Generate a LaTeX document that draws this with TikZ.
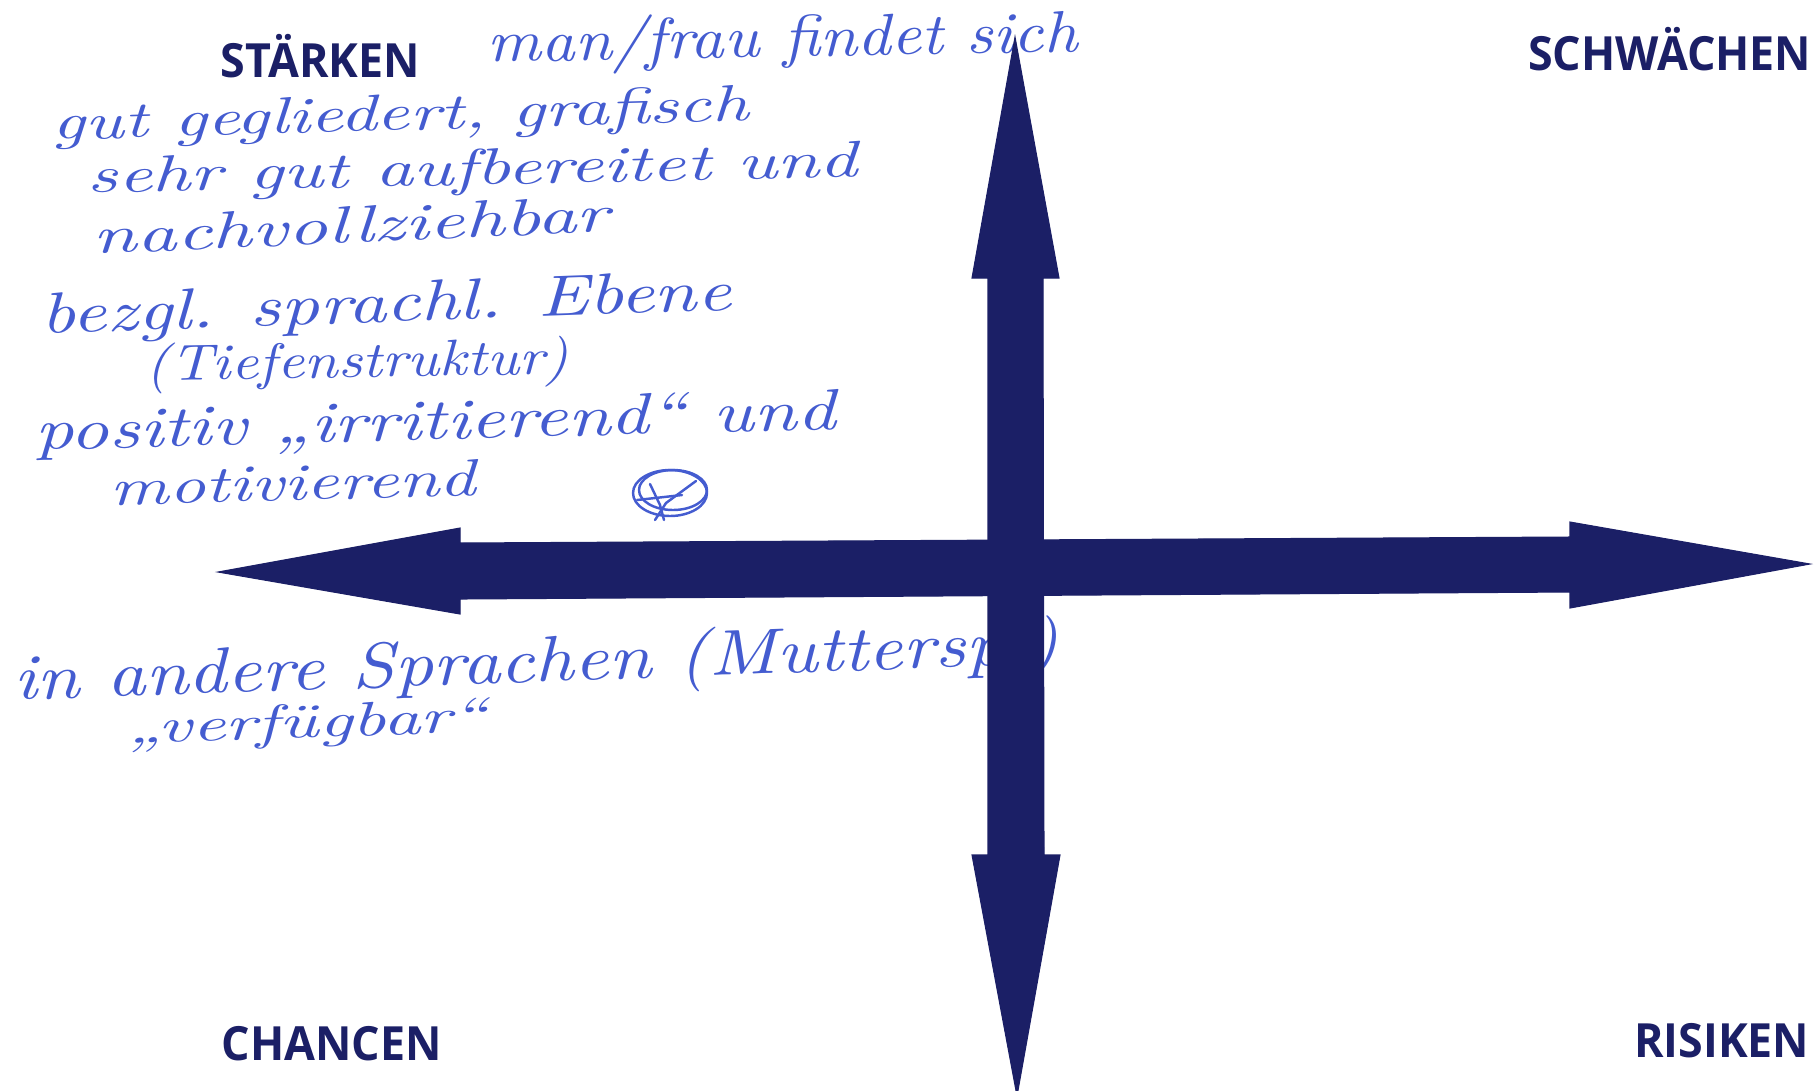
\documentclass[tikz,border=0pt]{standalone}
\usepackage{fontspec}
\usepackage{graphicx}
\newfontfamily\labelfont{Open Sans}
\definecolor{navy}{RGB}{27,31,102}
\definecolor{ink}{RGB}{68,92,208}
\newcommand{\hwtext}[3]{\resizebox{#1}{#2}{\itshape #3}}
\newcommand{\lbltext}[1]{\scalebox{0.95}[1]{#1}}
\tikzset{
  corner/.style={inner sep=0pt, text=navy, font=\labelfont\bfseries\fontsize{13.4}{15}\selectfont},
  hand/.style={inner sep=0pt, text=ink, anchor=base west},
  handline/.style={draw=ink, line width=0.7pt, line cap=round, line join=round},
  arrowshape/.style={fill=navy, draw=navy, line width=0.3pt, line join=miter}
}
\begin{document}
\begin{tikzpicture}[x=0.01cm, y=-0.01cm]
\useasboundingbox (0,0) rectangle (1818,1090);
\clip (0,0) rectangle (1818,1090);

% handwritten notes
\node[hand, rotate=1] (n1) at (487,62) {\hwtext{5.9cm}{0.44cm}{man/frau findet sich}};
\node[hand, rotate=1.6] (n2) at (52,140) {\hwtext{6.96cm}{0.36cm}{gut gegliedert, grafisch}};
\node[hand, rotate=1.2] (n3) at (87,193) {\hwtext{7.7cm}{0.36cm}{sehr gut aufbereitet und}};
\node[hand, rotate=2.5] (n4) at (93,254) {\hwtext{5.16cm}{0.36cm}{nachvollziehbar}};
\node[hand, rotate=2] (n5) at (41,334) {\hwtext{6.9cm}{0.4cm}{bezgl. sprachl. Ebene}};
\node[hand, rotate=1] (n6) at (145,381) {\hwtext{4.23cm}{0.38cm}{(Tiefenstruktur)}};
\node[hand, rotate=1.5] (n7) at (35,450) {\hwtext{8.0cm}{0.4cm}{positiv „irritierend“ und}};
\node[hand, rotate=1.5] (n8) at (110,505) {\hwtext{3.65cm}{0.36cm}{motivierend}};
\node[hand, rotate=2] (n9) at (14,700) {\hwtext{10.45cm}{0.48cm}{in andere Sprachen (Muttersp.)}};
\node[hand, rotate=2] (n10) at (127,744) {\hwtext{3.6cm}{0.34cm}{„verfügbar“}};

% circled mark
\draw[handline] (670,493) ellipse [x radius=37, y radius=23];
\draw[handline] (673,490) ellipse [x radius=34, y radius=20];
\draw[handline] (637,500) -- (682,495);
\draw[handline] (650,484) -- (660,505) -- (664,520);
\draw[handline] (696,481) -- (666,503) -- (655,520);

% horizontal double arrow
\fill[arrowshape] (218,572) -- (460,528) -- (460,543) -- (1570,537) -- (1570,522)
  -- (1810,564) -- (1570,608) -- (1570,592) -- (460,599) -- (460,614) -- cycle;
% vertical double arrow
\fill[arrowshape] (1015,37) -- (1059,278) -- (1043,278) -- (1044,855) -- (1060,855)
  -- (1017,1096) -- (972,855) -- (988,855) -- (988,278) -- (972,278) -- cycle;

% corner labels
\node[corner, anchor=base west] (staerken) at (220,77) {\lbltext{STÄRKEN}};
\node[corner, anchor=base east] (schwaechen) at (1812,70) {\lbltext{SCHWÄCHEN}};
\node[corner, anchor=base west] (chancen) at (221,1060) {\lbltext{CHANCEN}};
\node[corner, anchor=base east] (risiken) at (1810,1057) {\lbltext{RISIKEN}};
\end{tikzpicture}
\end{document}
